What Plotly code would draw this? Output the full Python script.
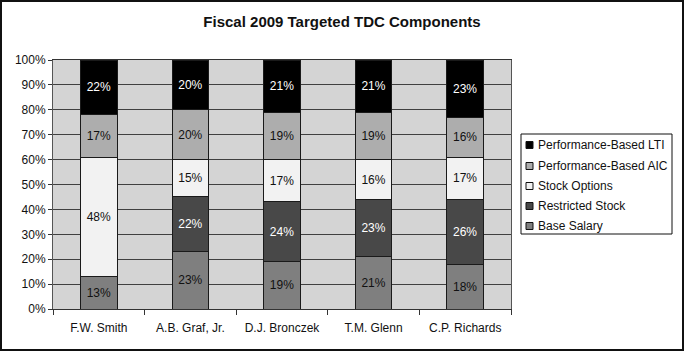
import plotly.graph_objects as go

categories = ["F.W. Smith", "A.B. Graf, Jr.", "D.J. Bronczek", "T.M. Glenn", "C.P. Richards"]
base_salary = [13, 23, 19, 21, 18]
restricted_stock = [0, 22, 24, 23, 26]
stock_options = [48, 15, 17, 16, 17]
perf_aic = [17, 20, 19, 19, 16]
perf_lti = [22, 20, 21, 21, 23]
y_ticks = [0, 10, 20, 30, 40, 50, 60, 70, 80, 90, 100]
y_tick_labels = [f"{v}%" for v in y_ticks]

series = [
    ("Base Salary", base_salary, "#7f7f7f", "#111111"),
    ("Restricted Stock", restricted_stock, "#484848", "#ffffff"),
    ("Stock Options", stock_options, "#f2f2f2", "#111111"),
    ("Performance-Based AIC", perf_aic, "#adadad", "#111111"),
    ("Performance-Based LTI", perf_lti, "#000000", "#ffffff"),
]

FONT = "Liberation Sans, Arial"
fig = go.Figure()
for name, vals, color, tcolor in series:
    fig.add_trace(go.Bar(
        name=name, x=categories, y=vals,
        marker=dict(color=color, line=dict(color="#1a1a1a", width=1)),
        text=[f"{v}%" if v > 0 else "" for v in vals],
        textposition="inside", insidetextanchor="middle",
        textfont=dict(color=tcolor, size=12, family=FONT),
        textangle=0,
        hoverinfo="skip",
        showlegend=False,
    ))

L, R, T, B = 53, 173, 60, 42
W, H = 684, 351
pw, ph = W - L - R, H - T - B


def px(x):
    return (x - L) / pw


def py(y):
    return (H - B - y) / ph


shapes = [
    dict(type="rect", xref="paper", yref="paper",
         x0=px(1), x1=px(W - 1), y0=py(H - 1), y1=py(1),
         line=dict(color="#111111", width=2), layer="above"),
    dict(type="rect", xref="paper", yref="paper",
         x0=px(521), x1=px(672), y0=py(234), y1=py(134),
         line=dict(color="#111111", width=1), fillcolor="#ffffff", layer="above"),
]
annotations = []
row_y = [145, 166, 186, 206, 226]
for (name, vals, color, tcolor), ry in zip(reversed(series), row_y):
    shapes.append(dict(type="rect", xref="paper", yref="paper",
                       x0=px(526), x1=px(533), y0=py(ry + 3.5), y1=py(ry - 3.5),
                       line=dict(color="#111111", width=1), fillcolor=color, layer="above"))
    annotations.append(dict(text=name, xref="paper", yref="paper", x=px(536), y=py(ry),
                            xanchor="left", yanchor="middle", showarrow=False,
                            font=dict(size=12, family=FONT, color="#111111")))

fig.update_layout(
    barmode="stack",
    width=W, height=H,
    margin=dict(l=L, r=R, t=T, b=B, autoexpand=False),
    paper_bgcolor="#ffffff",
    plot_bgcolor="#d4d4d4",
    bargap=0.6,
    showlegend=False,
    font=dict(family=FONT, size=12, color="#111111"),
    title=dict(text="<b>Fiscal 2009 Targeted TDC Components</b>", x=0.5, xanchor="center",
               y=1 - 22 / H, yanchor="middle", font=dict(size=15, color="#111111")),
    shapes=shapes,
    annotations=annotations,
)
fig.update_yaxes(range=[0, 100], tickvals=y_ticks, ticktext=y_tick_labels,
                 showgrid=True, gridcolor="#404040", gridwidth=1,
                 showline=True, linecolor="#555555", linewidth=1, mirror=True,
                 ticks="outside", ticklen=4, tickcolor="#333333", zeroline=False,
                 tickfont=dict(size=12))
fig.update_xaxes(showline=True, linecolor="#333333", linewidth=1, mirror=True,
                 ticks="outside", tickson="boundaries", ticklen=5, tickcolor="#333333",
                 ticklabelstandoff=8,
                 tickfont=dict(size=12))

fig.write_html("out.html")
